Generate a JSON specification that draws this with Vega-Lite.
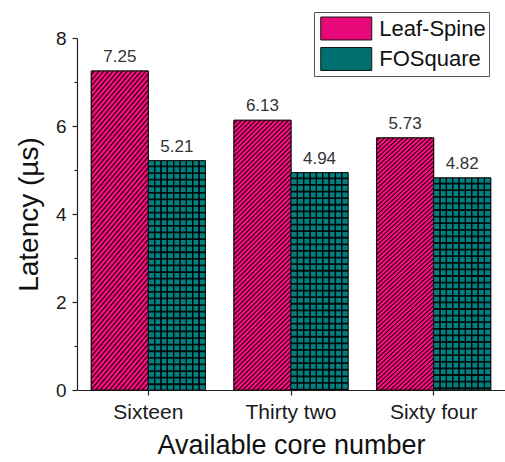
{
  "$schema": "https://vega.github.io/schema/vega-lite/v6.json",
  "width": 428,
  "height": 352,
  "autosize": {"type": "none"},
  "padding": {"left": 77, "top": 38, "right": 0, "bottom": 72},
  "background": "white",
  "config": {
    "font": "Liberation Sans",
    "view": {"stroke": null},
    "axis": {
      "domainColor": "#222",
      "domainWidth": 1.2,
      "tickColor": "#222",
      "tickWidth": 1.2,
      "labelColor": "#1a1a1a",
      "titleColor": "#111",
      "titleFontWeight": "normal",
      "grid": false,
      "labelFont": "Liberation Sans",
      "titleFont": "Liberation Sans"
    }
  },
  "data": {
    "values": [
      {"core": "Sixteen", "network": "Leaf-Spine", "latency": 7.25},
      {"core": "Sixteen", "network": "FOSquare", "latency": 5.21},
      {"core": "Thirty two", "network": "Leaf-Spine", "latency": 6.13},
      {"core": "Thirty two", "network": "FOSquare", "latency": 4.94},
      {"core": "Sixty four", "network": "Leaf-Spine", "latency": 5.73},
      {"core": "Sixty four", "network": "FOSquare", "latency": 4.82}
    ]
  },
  "encoding": {
    "x": {
      "field": "core",
      "type": "nominal",
      "sort": ["Sixteen", "Thirty two", "Sixty four"],
      "scale": {"paddingInner": 0.2, "paddingOuter": 0.1},
      "axis": {
        "title": "Available core number",
        "labelAngle": 0,
        "labelFontSize": 21,
        "tickSize": 5,
        "labelPadding": 6,
        "titleFontSize": 27,
        "titlePadding": 10
      }
    },
    "xOffset": {"field": "network", "type": "nominal", "sort": ["Leaf-Spine", "FOSquare"], "scale": {"domain": ["Leaf-Spine", "FOSquare"]}},
    "y": {
      "field": "latency",
      "type": "quantitative",
      "scale": {"domain": [0, 8], "nice": false},
      "axis": {
        "title": "Latency (µs)",
        "values": [0, 1, 2, 3, 4, 5, 6, 7, 8],
        "labelExpr": "datum.value % 2 == 0 ? datum.label : ''",
        "tickSize": {"condition": {"test": "datum.value % 2 == 1", "value": 3}, "value": 5},
        "labelFontSize": 19,
        "labelPadding": 6,
        "titleFontSize": 28,
        "titlePadding": 12
      }
    }
  },
  "layer": [
    {
      "mark": {"type": "bar", "stroke": "#111", "strokeWidth": 1},
      "encoding": {
        "color": {
          "field": "network",
          "type": "nominal",
          "scale": {"domain": ["Leaf-Spine", "FOSquare"], "range": ["#e8087a", "#006f6f"]},
          "legend": {
            "title": null,
            "orient": "none",
            "legendX": 237,
            "legendY": -26,
            "direction": "vertical",
            "symbolType": "M-2,-0.9H2V0.9H-2Z",
            "symbolSize": 650,
            "symbolOffset": 15.75,
            "symbolStrokeColor": "#111",
            "symbolStrokeWidth": 1,
            "symbolOpacity": 1,
            "labelFontSize": 22,
            "labelColor": "#111",
            "labelOffset": 19.5,
            "labelExpr": "datum.label + '\u00a0'",
            "rowPadding": 3.5,
            "padding": 3,
            "strokeColor": "#555",
            "fillColor": "white"
          }
        }
      }
    },
    {
      "mark": {"type": "bar", "stroke": "#111", "strokeWidth": 1},
      "encoding": {
        "fill": {
          "condition": {
            "test": "datum.network == 'Leaf-Spine'",
            "value": {
              "gradient": "linear", "x1": 0, "y1": 0, "x2": 0.2446, "y2": 1.1594,
              "stops": [
                {"offset": 0, "color": "#ff0a80"}, {"offset": 0.0057, "color": "#ff0a80"}, {"offset": 0.01, "color": "#000"},
                {"offset": 0.0143, "color": "#ff0a80"}, {"offset": 0.02, "color": "#ff0a80"}, {"offset": 0.0243, "color": "#000"},
                {"offset": 0.0286, "color": "#ff0a80"}, {"offset": 0.0343, "color": "#ff0a80"}, {"offset": 0.0386, "color": "#000"},
                {"offset": 0.0429, "color": "#ff0a80"}, {"offset": 0.0486, "color": "#ff0a80"}, {"offset": 0.0529, "color": "#000"},
                {"offset": 0.0571, "color": "#ff0a80"}, {"offset": 0.0628, "color": "#ff0a80"}, {"offset": 0.0671, "color": "#000"},
                {"offset": 0.0714, "color": "#ff0a80"}, {"offset": 0.0771, "color": "#ff0a80"}, {"offset": 0.0814, "color": "#000"},
                {"offset": 0.0857, "color": "#ff0a80"}, {"offset": 0.0914, "color": "#ff0a80"}, {"offset": 0.0957, "color": "#000"},
                {"offset": 0.1, "color": "#ff0a80"}, {"offset": 0.1057, "color": "#ff0a80"}, {"offset": 0.11, "color": "#000"},
                {"offset": 0.1143, "color": "#ff0a80"}, {"offset": 0.12, "color": "#ff0a80"}, {"offset": 0.1243, "color": "#000"},
                {"offset": 0.1286, "color": "#ff0a80"}, {"offset": 0.1343, "color": "#ff0a80"}, {"offset": 0.1386, "color": "#000"},
                {"offset": 0.1429, "color": "#ff0a80"}, {"offset": 0.1486, "color": "#ff0a80"}, {"offset": 0.1529, "color": "#000"},
                {"offset": 0.1571, "color": "#ff0a80"}, {"offset": 0.1628, "color": "#ff0a80"}, {"offset": 0.1671, "color": "#000"},
                {"offset": 0.1714, "color": "#ff0a80"}, {"offset": 0.1771, "color": "#ff0a80"}, {"offset": 0.1814, "color": "#000"},
                {"offset": 0.1857, "color": "#ff0a80"}, {"offset": 0.1914, "color": "#ff0a80"}, {"offset": 0.1957, "color": "#000"},
                {"offset": 0.2, "color": "#ff0a80"}, {"offset": 0.2057, "color": "#ff0a80"}, {"offset": 0.21, "color": "#000"},
                {"offset": 0.2143, "color": "#ff0a80"}, {"offset": 0.22, "color": "#ff0a80"}, {"offset": 0.2243, "color": "#000"},
                {"offset": 0.2286, "color": "#ff0a80"}, {"offset": 0.2343, "color": "#ff0a80"}, {"offset": 0.2386, "color": "#000"},
                {"offset": 0.2429, "color": "#ff0a80"}, {"offset": 0.2486, "color": "#ff0a80"}, {"offset": 0.2529, "color": "#000"},
                {"offset": 0.2571, "color": "#ff0a80"}, {"offset": 0.2628, "color": "#ff0a80"}, {"offset": 0.2671, "color": "#000"},
                {"offset": 0.2714, "color": "#ff0a80"}, {"offset": 0.2771, "color": "#ff0a80"}, {"offset": 0.2814, "color": "#000"},
                {"offset": 0.2857, "color": "#ff0a80"}, {"offset": 0.2914, "color": "#ff0a80"}, {"offset": 0.2957, "color": "#000"},
                {"offset": 0.3, "color": "#ff0a80"}, {"offset": 0.3057, "color": "#ff0a80"}, {"offset": 0.31, "color": "#000"},
                {"offset": 0.3143, "color": "#ff0a80"}, {"offset": 0.32, "color": "#ff0a80"}, {"offset": 0.3243, "color": "#000"},
                {"offset": 0.3286, "color": "#ff0a80"}, {"offset": 0.3343, "color": "#ff0a80"}, {"offset": 0.3386, "color": "#000"},
                {"offset": 0.3429, "color": "#ff0a80"}, {"offset": 0.3486, "color": "#ff0a80"}, {"offset": 0.3529, "color": "#000"},
                {"offset": 0.3571, "color": "#ff0a80"}, {"offset": 0.3628, "color": "#ff0a80"}, {"offset": 0.3671, "color": "#000"},
                {"offset": 0.3714, "color": "#ff0a80"}, {"offset": 0.3771, "color": "#ff0a80"}, {"offset": 0.3814, "color": "#000"},
                {"offset": 0.3857, "color": "#ff0a80"}, {"offset": 0.3914, "color": "#ff0a80"}, {"offset": 0.3957, "color": "#000"},
                {"offset": 0.4, "color": "#ff0a80"}, {"offset": 0.4057, "color": "#ff0a80"}, {"offset": 0.41, "color": "#000"},
                {"offset": 0.4143, "color": "#ff0a80"}, {"offset": 0.42, "color": "#ff0a80"}, {"offset": 0.4243, "color": "#000"},
                {"offset": 0.4286, "color": "#ff0a80"}, {"offset": 0.4343, "color": "#ff0a80"}, {"offset": 0.4386, "color": "#000"},
                {"offset": 0.4429, "color": "#ff0a80"}, {"offset": 0.4486, "color": "#ff0a80"}, {"offset": 0.4529, "color": "#000"},
                {"offset": 0.4571, "color": "#ff0a80"}, {"offset": 0.4628, "color": "#ff0a80"}, {"offset": 0.4671, "color": "#000"},
                {"offset": 0.4714, "color": "#ff0a80"}, {"offset": 0.4771, "color": "#ff0a80"}, {"offset": 0.4814, "color": "#000"},
                {"offset": 0.4857, "color": "#ff0a80"}, {"offset": 0.4914, "color": "#ff0a80"}, {"offset": 0.4957, "color": "#000"},
                {"offset": 0.5, "color": "#ff0a80"}, {"offset": 0.5057, "color": "#ff0a80"}, {"offset": 0.51, "color": "#000"},
                {"offset": 0.5143, "color": "#ff0a80"}, {"offset": 0.52, "color": "#ff0a80"}, {"offset": 0.5243, "color": "#000"},
                {"offset": 0.5286, "color": "#ff0a80"}, {"offset": 0.5343, "color": "#ff0a80"}, {"offset": 0.5386, "color": "#000"},
                {"offset": 0.5429, "color": "#ff0a80"}, {"offset": 0.5486, "color": "#ff0a80"}, {"offset": 0.5529, "color": "#000"},
                {"offset": 0.5571, "color": "#ff0a80"}, {"offset": 0.5628, "color": "#ff0a80"}, {"offset": 0.5671, "color": "#000"},
                {"offset": 0.5714, "color": "#ff0a80"}, {"offset": 0.5771, "color": "#ff0a80"}, {"offset": 0.5814, "color": "#000"},
                {"offset": 0.5857, "color": "#ff0a80"}, {"offset": 0.5914, "color": "#ff0a80"}, {"offset": 0.5957, "color": "#000"},
                {"offset": 0.6, "color": "#ff0a80"}, {"offset": 0.6057, "color": "#ff0a80"}, {"offset": 0.61, "color": "#000"},
                {"offset": 0.6143, "color": "#ff0a80"}, {"offset": 0.62, "color": "#ff0a80"}, {"offset": 0.6243, "color": "#000"},
                {"offset": 0.6286, "color": "#ff0a80"}, {"offset": 0.6343, "color": "#ff0a80"}, {"offset": 0.6386, "color": "#000"},
                {"offset": 0.6429, "color": "#ff0a80"}, {"offset": 0.6486, "color": "#ff0a80"}, {"offset": 0.6529, "color": "#000"},
                {"offset": 0.6571, "color": "#ff0a80"}, {"offset": 0.6628, "color": "#ff0a80"}, {"offset": 0.6671, "color": "#000"},
                {"offset": 0.6714, "color": "#ff0a80"}, {"offset": 0.6771, "color": "#ff0a80"}, {"offset": 0.6814, "color": "#000"},
                {"offset": 0.6857, "color": "#ff0a80"}, {"offset": 0.6914, "color": "#ff0a80"}, {"offset": 0.6957, "color": "#000"},
                {"offset": 0.7, "color": "#ff0a80"}, {"offset": 0.7057, "color": "#ff0a80"}, {"offset": 0.71, "color": "#000"},
                {"offset": 0.7143, "color": "#ff0a80"}, {"offset": 0.72, "color": "#ff0a80"}, {"offset": 0.7243, "color": "#000"},
                {"offset": 0.7286, "color": "#ff0a80"}, {"offset": 0.7343, "color": "#ff0a80"}, {"offset": 0.7386, "color": "#000"},
                {"offset": 0.7429, "color": "#ff0a80"}, {"offset": 0.7486, "color": "#ff0a80"}, {"offset": 0.7529, "color": "#000"},
                {"offset": 0.7571, "color": "#ff0a80"}, {"offset": 0.7628, "color": "#ff0a80"}, {"offset": 0.7671, "color": "#000"},
                {"offset": 0.7714, "color": "#ff0a80"}, {"offset": 0.7771, "color": "#ff0a80"}, {"offset": 0.7814, "color": "#000"},
                {"offset": 0.7857, "color": "#ff0a80"}, {"offset": 0.7914, "color": "#ff0a80"}, {"offset": 0.7957, "color": "#000"},
                {"offset": 0.8, "color": "#ff0a80"}, {"offset": 0.8057, "color": "#ff0a80"}, {"offset": 0.81, "color": "#000"},
                {"offset": 0.8143, "color": "#ff0a80"}, {"offset": 0.82, "color": "#ff0a80"}, {"offset": 0.8243, "color": "#000"},
                {"offset": 0.8286, "color": "#ff0a80"}, {"offset": 0.8343, "color": "#ff0a80"}, {"offset": 0.8386, "color": "#000"},
                {"offset": 0.8429, "color": "#ff0a80"}, {"offset": 0.8486, "color": "#ff0a80"}, {"offset": 0.8529, "color": "#000"},
                {"offset": 0.8571, "color": "#ff0a80"}, {"offset": 0.8628, "color": "#ff0a80"}, {"offset": 0.8671, "color": "#000"},
                {"offset": 0.8714, "color": "#ff0a80"}, {"offset": 0.8771, "color": "#ff0a80"}, {"offset": 0.8814, "color": "#000"},
                {"offset": 0.8857, "color": "#ff0a80"}, {"offset": 0.8914, "color": "#ff0a80"}, {"offset": 0.8957, "color": "#000"},
                {"offset": 0.9, "color": "#ff0a80"}, {"offset": 0.9057, "color": "#ff0a80"}, {"offset": 0.91, "color": "#000"},
                {"offset": 0.9143, "color": "#ff0a80"}, {"offset": 0.92, "color": "#ff0a80"}, {"offset": 0.9243, "color": "#000"},
                {"offset": 0.9286, "color": "#ff0a80"}, {"offset": 0.9343, "color": "#ff0a80"}, {"offset": 0.9386, "color": "#000"},
                {"offset": 0.9429, "color": "#ff0a80"}, {"offset": 0.9486, "color": "#ff0a80"}, {"offset": 0.9529, "color": "#000"},
                {"offset": 0.9571, "color": "#ff0a80"}, {"offset": 0.9628, "color": "#ff0a80"}, {"offset": 0.9671, "color": "#000"},
                {"offset": 0.9714, "color": "#ff0a80"}, {"offset": 0.9771, "color": "#ff0a80"}, {"offset": 0.9814, "color": "#000"},
                {"offset": 0.9857, "color": "#ff0a80"}, {"offset": 0.9914, "color": "#ff0a80"}, {"offset": 0.9957, "color": "#000"},
                {"offset": 1, "color": "#ff0a80"}
              ]
            }
          },
          "value": {
            "gradient": "linear", "x1": 0, "y1": 0, "x2": 1, "y2": 0,
            "stops": [
              {"offset": 0, "color": "#008080"},
              {"offset": 0.0911, "color": "#008080"}, {"offset": 0.1051, "color": "#000"}, {"offset": 0.1171, "color": "#000"}, {"offset": 0.1311, "color": "#008080"},
              {"offset": 0.2022, "color": "#008080"}, {"offset": 0.2162, "color": "#000"}, {"offset": 0.2282, "color": "#000"}, {"offset": 0.2422, "color": "#008080"},
              {"offset": 0.3133, "color": "#008080"}, {"offset": 0.3273, "color": "#000"}, {"offset": 0.3393, "color": "#000"}, {"offset": 0.3533, "color": "#008080"},
              {"offset": 0.4244, "color": "#008080"}, {"offset": 0.4384, "color": "#000"}, {"offset": 0.4504, "color": "#000"}, {"offset": 0.4644, "color": "#008080"},
              {"offset": 0.5356, "color": "#008080"}, {"offset": 0.5496, "color": "#000"}, {"offset": 0.5616, "color": "#000"}, {"offset": 0.5756, "color": "#008080"},
              {"offset": 0.6467, "color": "#008080"}, {"offset": 0.6607, "color": "#000"}, {"offset": 0.6727, "color": "#000"}, {"offset": 0.6867, "color": "#008080"},
              {"offset": 0.7578, "color": "#008080"}, {"offset": 0.7718, "color": "#000"}, {"offset": 0.7838, "color": "#000"}, {"offset": 0.7978, "color": "#008080"},
              {"offset": 0.8689, "color": "#008080"}, {"offset": 0.8829, "color": "#000"}, {"offset": 0.8949, "color": "#000"}, {"offset": 0.9089, "color": "#008080"},
              {"offset": 1, "color": "#008080"}
            ]
          }
        }
      }
    },
    {
      "transform": [{"filter": "datum.network == 'FOSquare'"}],
      "mark": {"type": "rule", "color": "#000", "strokeWidth": 57, "strokeDash": [1.8, 4.8], "strokeDashOffset": 1.8, "opacity": 0.9},
      "encoding": {"y2": {"datum": 0}}
    },
    {
      "mark": {"type": "text", "dy": -9, "baseline": "alphabetic", "fontSize": 17, "color": "#333"},
      "encoding": {"text": {"field": "latency", "type": "quantitative", "format": ".2f"}}
    }
  ]
}
